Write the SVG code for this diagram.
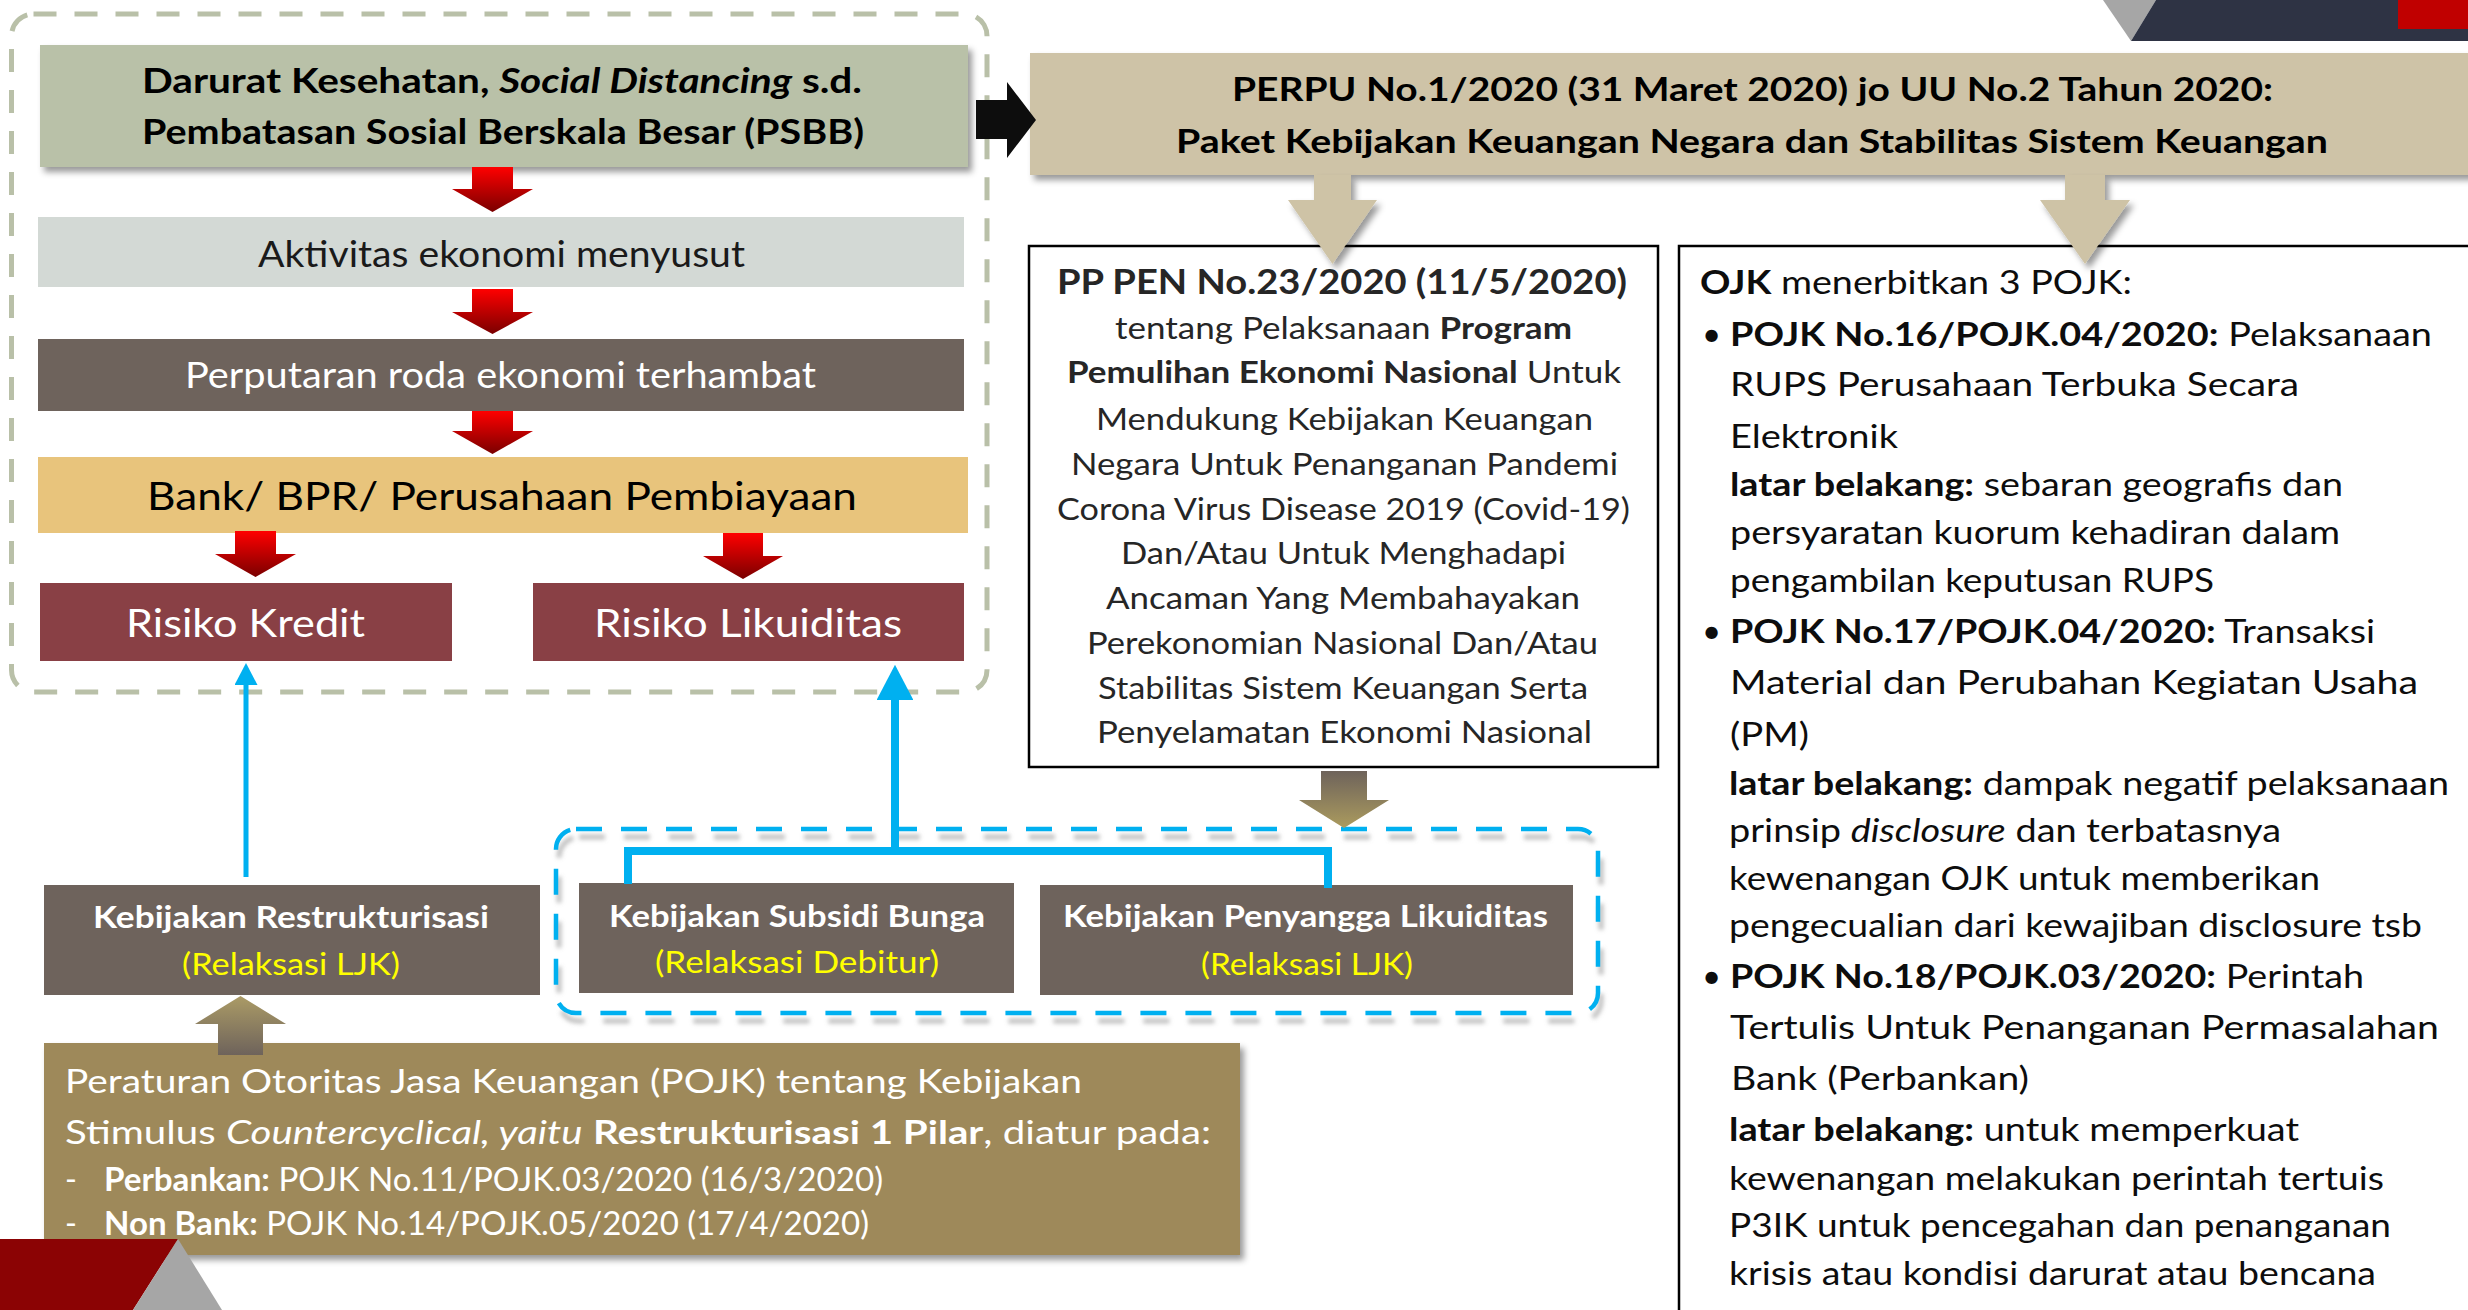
<svg xmlns="http://www.w3.org/2000/svg" width="2468" height="1310" viewBox="0 0 2468 1310">
<defs>
<style>
text{font-family:Lato,"Open Sans","Liberation Sans",sans-serif;}
.b{font-weight:700}
.i{font-style:italic}
.c{text-anchor:middle}
.w{fill:#ffffff}
.y{fill:#ffff00}
.k{fill:#000000}
.pp{fill:#262626;font-size:31px}
.oj{fill:#0d0d0d;font-size:33px}
.pj{fill:#ffffff;font-size:32px}
.kb{font-size:31px}
.red{fill:url(#gRed)}
.tan{fill:#cec3a6}
.blue{stroke:#00b0f0;fill:none}
</style>
<linearGradient id="gRed" x1="0" y1="0" x2="0" y2="1">
<stop offset="0" stop-color="#ff0000"/><stop offset="1" stop-color="#7a0000"/>
</linearGradient>
<linearGradient id="gUp" x1="0" y1="0" x2="0" y2="1">
<stop offset="0" stop-color="#ab9b66"/><stop offset="1" stop-color="#6e635b"/>
</linearGradient>
<linearGradient id="gDown" x1="0" y1="0" x2="0" y2="1">
<stop offset="0" stop-color="#6e635b"/><stop offset="1" stop-color="#ab9b5e"/>
</linearGradient>
<filter id="sh" x="-5%" y="-10%" width="115%" height="135%">
<feDropShadow dx="4" dy="5" stdDeviation="3" flood-color="#000" flood-opacity="0.4"/>
</filter>
<filter id="blur" x="-5%" y="-10%" width="110%" height="120%">
<feGaussianBlur stdDeviation="2"/>
</filter>
<marker id="ah" viewBox="0 0 44 46" markerUnits="strokeWidth" markerWidth="4.4" markerHeight="4.6" refX="0" refY="23" orient="auto">
<path d="M0,0 L44,23 L0,46 Z" fill="#00b0f0"/>
</marker>
</defs>
<rect width="2468" height="1310" fill="#ffffff"/>

<g id="group-left">
<rect x="11.5" y="14" width="975.5" height="678" rx="22" fill="none" stroke="#b9c0a8" stroke-width="5" stroke-dasharray="23 18"/>
</g>

<g id="group-blue">
<rect x="559" y="837" width="1042" height="184" rx="20" fill="none" stroke="#8c8c8c" stroke-opacity="0.55" stroke-width="5" stroke-dasharray="26 19" filter="url(#blur)"/>
<rect x="556" y="829" width="1042" height="184" rx="20" class="blue" stroke-width="4.5" stroke-dasharray="26 19"/>
</g>

<g id="node-darurat">
<rect x="40" y="45" width="928" height="122" fill="#b9c1a8" filter="url(#sh)"/>
<text class="b c k" x="502" y="93" font-size="34" textLength="720" lengthAdjust="spacingAndGlyphs">Darurat Kesehatan, <tspan class="i">Social Distancing</tspan> s.d.</text>
<text class="b c k" x="503" y="144" font-size="34" textLength="722" lengthAdjust="spacingAndGlyphs">Pembatasan Sosial Berskala Besar (PSBB)</text>
</g>

<g id="node-aktivitas">
<rect x="38" y="217" width="926" height="70" fill="#d3d9d5"/>
<text class="c" x="501.5" y="267" font-size="36" fill="#1a1a1a" textLength="487" lengthAdjust="spacingAndGlyphs">Aktivitas ekonomi menyusut</text>
</g>

<g id="node-perputaran">
<rect x="38" y="339" width="926" height="72" fill="#6e635c"/>
<text class="c w" x="500.5" y="388" font-size="36" textLength="631" lengthAdjust="spacingAndGlyphs">Perputaran roda ekonomi terhambat</text>
</g>

<g id="node-bank">
<rect x="38" y="457" width="930" height="76" fill="#e8c47c"/>
<text class="c k" x="502" y="510" font-size="39" textLength="710" lengthAdjust="spacingAndGlyphs">Bank/ BPR/ Perusahaan Pembiayaan</text>
</g>

<g id="node-risiko-kredit">
<rect x="40" y="583" width="412" height="78" fill="#894045"/>
<text class="c w" x="245.5" y="637" font-size="39" textLength="239" lengthAdjust="spacingAndGlyphs">Risiko Kredit</text>
</g>

<g id="node-risiko-likuiditas">
<rect x="533" y="583" width="431" height="78" fill="#894045"/>
<text class="c w" x="748" y="637" font-size="39" textLength="308" lengthAdjust="spacingAndGlyphs">Risiko Likuiditas</text>
</g>

<g id="node-perpu">
<rect x="1030" y="53" width="1460" height="122" fill="#cec3a7" filter="url(#sh)"/>
<text class="b c k" x="1752.5" y="101" font-size="32" textLength="1041" lengthAdjust="spacingAndGlyphs">PERPU No.1/2020 (31 Maret 2020) jo UU No.2 Tahun 2020:</text>
<text class="b c k" x="1752" y="153" font-size="32" textLength="1152" lengthAdjust="spacingAndGlyphs">Paket Kebijakan Keuangan Negara dan Stabilitas Sistem Keuangan</text>
</g>

<g id="node-pp-pen">
<rect x="1029" y="246" width="629" height="521" fill="#ffffff" stroke="#000" stroke-width="2.5"/>
<text class="b c" x="1342" y="294" font-size="35" fill="#262626" textLength="570" lengthAdjust="spacingAndGlyphs">PP PEN No.23/2020 (11/5/2020)</text>
<text class="pp c" x="1343.5" y="339" textLength="457" lengthAdjust="spacingAndGlyphs">tentang Pelaksanaan <tspan class="b">Program</tspan></text>
<text class="pp c" x="1344" y="383" textLength="554" lengthAdjust="spacingAndGlyphs"><tspan class="b">Pemulihan Ekonomi Nasional</tspan> Untuk</text>
<text class="pp c" x="1344.5" y="430" textLength="497" lengthAdjust="spacingAndGlyphs">Mendukung Kebijakan Keuangan</text>
<text class="pp c" x="1344.5" y="475" textLength="547" lengthAdjust="spacingAndGlyphs">Negara Untuk Penanganan Pandemi</text>
<text class="pp c" x="1343.5" y="520" textLength="573" lengthAdjust="spacingAndGlyphs">Corona Virus Disease 2019 (Covid-19)</text>
<text class="pp c" x="1343.5" y="564" textLength="445" lengthAdjust="spacingAndGlyphs">Dan/Atau Untuk Menghadapi</text>
<text class="pp c" x="1343" y="609" textLength="474" lengthAdjust="spacingAndGlyphs">Ancaman Yang Membahayakan</text>
<text class="pp c" x="1342.5" y="654" textLength="511" lengthAdjust="spacingAndGlyphs">Perekonomian Nasional Dan/Atau</text>
<text class="pp c" x="1343" y="699" textLength="490" lengthAdjust="spacingAndGlyphs">Stabilitas Sistem Keuangan Serta</text>
<text class="pp c" x="1344.5" y="743" textLength="495" lengthAdjust="spacingAndGlyphs">Penyelamatan Ekonomi Nasional</text>
</g>

<g id="node-ojk">
<rect x="1679" y="246" width="820" height="1100" fill="#ffffff" stroke="#000" stroke-width="2.5"/>
<text class="oj" x="1700" y="294" textLength="432" lengthAdjust="spacingAndGlyphs"><tspan class="b">OJK</tspan> menerbitkan 3 POJK:</text>
<text class="oj" x="1702" y="346">•</text>
<text class="oj" x="1730" y="346" textLength="702" lengthAdjust="spacingAndGlyphs"><tspan class="b">POJK No.16/POJK.04/2020:</tspan> Pelaksanaan</text>
<text class="oj" x="1730" y="396" textLength="569" lengthAdjust="spacingAndGlyphs">RUPS Perusahaan Terbuka Secara</text>
<text class="oj" x="1730" y="448" textLength="168" lengthAdjust="spacingAndGlyphs">Elektronik</text>
<text class="oj" x="1730" y="496" textLength="613" lengthAdjust="spacingAndGlyphs"><tspan class="b">latar belakang:</tspan> sebaran geografis dan</text>
<text class="oj" x="1730" y="544" textLength="610" lengthAdjust="spacingAndGlyphs">persyaratan kuorum kehadiran dalam</text>
<text class="oj" x="1730" y="592" textLength="484" lengthAdjust="spacingAndGlyphs">pengambilan keputusan RUPS</text>
<text class="oj" x="1702" y="643">•</text>
<text class="oj" x="1730" y="643" textLength="645" lengthAdjust="spacingAndGlyphs"><tspan class="b">POJK No.17/POJK.04/2020:</tspan> Transaksi</text>
<text class="oj" x="1730" y="694" textLength="688" lengthAdjust="spacingAndGlyphs">Material dan Perubahan Kegiatan Usaha</text>
<text class="oj" x="1730" y="746" textLength="79" lengthAdjust="spacingAndGlyphs">(PM)</text>
<text class="oj" x="1729" y="795" textLength="720" lengthAdjust="spacingAndGlyphs"><tspan class="b">latar belakang:</tspan> dampak negatif pelaksanaan</text>
<text class="oj" x="1729" y="842" textLength="552" lengthAdjust="spacingAndGlyphs">prinsip <tspan class="i">disclosure</tspan> dan terbatasnya</text>
<text class="oj" x="1729" y="890" textLength="591" lengthAdjust="spacingAndGlyphs">kewenangan OJK untuk memberikan</text>
<text class="oj" x="1729" y="937" textLength="693" lengthAdjust="spacingAndGlyphs">pengecualian dari kewajiban disclosure tsb</text>
<text class="oj" x="1702" y="988">•</text>
<text class="oj" x="1730" y="988" textLength="634" lengthAdjust="spacingAndGlyphs"><tspan class="b">POJK No.18/POJK.03/2020:</tspan> Perintah</text>
<text class="oj" x="1730" y="1039" textLength="709" lengthAdjust="spacingAndGlyphs">Tertulis Untuk Penanganan Permasalahan</text>
<text class="oj" x="1731" y="1090" textLength="298" lengthAdjust="spacingAndGlyphs">Bank (Perbankan)</text>
<text class="oj" x="1729" y="1141" textLength="570" lengthAdjust="spacingAndGlyphs"><tspan class="b">latar belakang:</tspan> untuk memperkuat</text>
<text class="oj" x="1729" y="1190" textLength="655" lengthAdjust="spacingAndGlyphs">kewenangan melakukan perintah tertuis</text>
<text class="oj" x="1729" y="1237" textLength="662" lengthAdjust="spacingAndGlyphs">P3IK untuk pencegahan dan penanganan</text>
<text class="oj" x="1729" y="1285" textLength="647" lengthAdjust="spacingAndGlyphs">krisis atau kondisi darurat atau bencana</text>
</g>

<g id="node-restrukturisasi">
<rect x="44" y="885" width="496" height="110" fill="#6e635c"/>
<text class="b c w kb" x="291" y="928" textLength="396" lengthAdjust="spacingAndGlyphs">Kebijakan Restrukturisasi</text>
<text class="c y kb" x="291" y="975" textLength="218" lengthAdjust="spacingAndGlyphs">(Relaksasi LJK)</text>
</g>

<g id="node-subsidi">
<rect x="579" y="883" width="435" height="110" fill="#6e635c"/>
<text class="b c w kb" x="797" y="927" textLength="376" lengthAdjust="spacingAndGlyphs">Kebijakan Subsidi Bunga</text>
<text class="c y kb" x="797" y="973" textLength="284" lengthAdjust="spacingAndGlyphs">(Relaksasi Debitur)</text>
</g>

<g id="node-penyangga">
<rect x="1040" y="885" width="533" height="110" fill="#6e635c"/>
<text class="b c w kb" x="1305.5" y="927" textLength="485" lengthAdjust="spacingAndGlyphs">Kebijakan Penyangga Likuiditas</text>
<text class="c y kb" x="1307" y="975" textLength="212" lengthAdjust="spacingAndGlyphs">(Relaksasi LJK)</text>
</g>

<g id="node-pojk">
<rect x="44" y="1043" width="1196" height="212" fill="#9e895a" filter="url(#sh)"/>
<text class="pj" x="65" y="1093" textLength="1017" lengthAdjust="spacingAndGlyphs">Peraturan Otoritas Jasa Keuangan (POJK) tentang Kebijakan</text>
<text class="pj" x="65" y="1144" textLength="1146" lengthAdjust="spacingAndGlyphs">Stimulus <tspan class="i">Countercyclical, yaitu</tspan> <tspan class="b">Restrukturisasi  1 Pilar</tspan>, diatur pada:</text>
<text class="pj" x="65" y="1191">-</text>
<text class="pj" x="104" y="1191" textLength="779" lengthAdjust="spacingAndGlyphs"><tspan class="b">Perbankan:</tspan> POJK No.11/POJK.03/2020 (16/3/2020)</text>
<text class="pj" x="65" y="1235">-</text>
<text class="pj" x="104" y="1235" textLength="765" lengthAdjust="spacingAndGlyphs"><tspan class="b">Non Bank:</tspan> POJK No.14/POJK.05/2020 (17/4/2020)</text>
</g>

<g id="connectors">
<polygon class="red" points="472,167 513,167 513,189 533,189 492.5,212 452,189 472,189"/>
<polygon class="red" points="472,289 513,289 513,312 533,312 492.5,334 452,312 472,312"/>
<polygon class="red" points="472,411 513,411 513,431 533,431 492.5,454 452,431 472,431"/>
<polygon class="red" points="235,531 276,531 276,554 296,554 255.5,577 215,554 235,554"/>
<polygon class="red" points="723,533 763,533 763,556 783,556 743,579 703,556 723,556"/>
<polygon fill="#0d0d0d" points="976,100 1007,100 1007,82 1036,120 1007,158 1007,139 976,139"/>
<polygon class="tan" filter="url(#sh)" points="1314,175 1351,175 1351,200 1377,200 1332.5,264 1288,200 1314,200"/>
<polygon class="tan" filter="url(#sh)" points="2065,175 2105,175 2105,200 2130,200 2085,264 2040,200 2065,200"/>
<polygon fill="url(#gDown)" points="1321,771 1367,771 1367,800 1389,800 1344,828 1299,800 1321,800"/>
<polygon fill="url(#gUp)" points="240.5,996 286,1024 263,1024 263,1055 218,1055 218,1024 195,1024"/>
<line class="blue" x1="246" y1="877" x2="246" y2="685" stroke-width="5" marker-end="url(#ah)"/>
<line class="blue" x1="895" y1="851" x2="895" y2="700" stroke-width="8" marker-end="url(#ah)"/>
<path class="blue" d="M628,884 V851 H1328 V888" stroke-width="8"/>
</g>

<g id="decor">
<polygon fill="#8b0304" points="0,1239 178,1239 133,1310 0,1310"/>
<polygon fill="#a6a6a6" points="178,1239 222,1310 133,1310"/>
<polygon fill="#a6a6a6" points="2103,0 2156,0 2131,41"/>
<polygon fill="#2e3344" points="2156,0 2468,0 2468,41 2131,41"/>
<rect x="2398" y="0" width="70" height="29" fill="#c00000"/>
</g>
</svg>
